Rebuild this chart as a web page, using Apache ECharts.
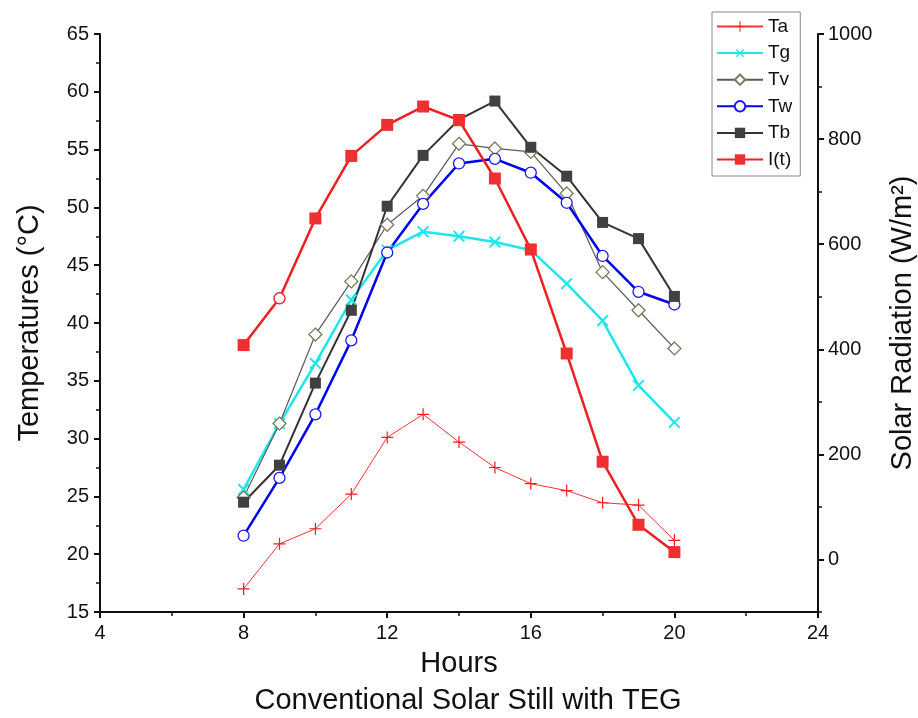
<!DOCTYPE html>
<html><head><meta charset="utf-8">
<script src="https://cdn.jsdelivr.net/npm/echarts@6/dist/echarts.min.js"></script>
<style>html,body{margin:0;padding:0;background:#fff}#c{width:918px;height:718px}</style>
</head><body><div id="c"></div>
<script>
const hours = [8, 9, 10, 11, 12, 13, 14, 15, 16, 17, 18, 19, 20];
const Ta = [17.0, 20.9, 22.2, 25.2, 30.1, 32.1, 29.7, 27.5, 26.1, 25.5, 24.45, 24.25, 21.2];
const Tg = [25.6, 31.3, 36.5, 42.0, 46.3, 47.9, 47.5, 47.0, 46.3, 43.4, 40.2, 34.6, 31.4];
const Tv = [24.9, 31.3, 39.0, 43.6, 48.5, 51.0, 55.5, 55.1, 54.8, 51.2, 44.4, 41.1, 37.8];
const Tw = [21.6, 26.6, 32.1, 38.5, 46.1, 50.3, 53.8, 54.2, 53.0, 50.4, 45.8, 42.7, 41.6];
const Tb = [24.5, 27.7, 34.8, 41.1, 50.1, 54.5, 57.6, 59.2, 55.2, 52.7, 48.7, 47.3, 42.3];
const It = [408, 497, 649, 768, 827, 862, 836, 725, 590, 392, 186, 66, 14];
const radTicks = [0, 200, 400, 600, 800, 1000];
const radMinorTicks = [-100, 100, 300, 500, 700, 900];
const seriesNames = ['Ta', 'Tg', 'Tv', 'Tw', 'Tb', 'I(t)'];

const FONT = 'Liberation Sans, Arial, sans-serif';
const pair = arr => hours.map((h, i) => [h, arr[i]]);
const plusPath = 'path://M-0.6,-6H0.6V-0.6H6V0.6H0.6V6H-0.6V0.6H-6V-0.6H-0.6Z';
const plusPathThick = 'path://M-0.8,-6H0.8V-0.8H6V0.8H0.8V6H-0.8V0.8H-6V-0.8H-0.8Z';

const itData = pair(It).map((p, i) => i === 1
  ? { value: p, symbol: 'circle', symbolSize: 11, itemStyle: { color: '#fff', borderColor: '#ee2a2a', borderWidth: 1.5 } }
  : p);

const axisTextStyle = { color: '#111', fontSize: 20, fontFamily: FONT };
const nameStyle = { fontFamily: FONT, fontSize: 29, color: '#111' };
const chart = echarts.init(document.getElementById('c'), null, { renderer: 'canvas' });
chart.setOption({
  animation: false,
  backgroundColor: '#fff',
  title: {
    text: 'Conventional Solar Still with TEG',
    left: 468, top: 686, textAlign: 'center', padding: 0,
    textStyle: { fontFamily: FONT, fontSize: 29, fontWeight: 'normal', color: '#111' }
  },
  grid: { left: 100, right: 100, top: 34, bottom: 106, containLabel: false, outerBoundsMode: 'none' },
  legend: {
    data: seriesNames,
    orient: 'vertical', left: 712, top: 12,
    itemWidth: 46, itemHeight: 13, itemGap: 7.6,
    padding: [5, 8, 7, 4],
    borderColor: '#888', borderWidth: 1,
    textStyle: { fontFamily: FONT, fontSize: 19, color: '#111' }
  },
  xAxis: {
    type: 'value', min: 4, max: 24, interval: 4,
    name: 'Hours', nameLocation: 'middle', nameGap: 37,
    nameTextStyle: nameStyle,
    axisLine: { show: true, onZero: false, lineStyle: { color: '#111', width: 2 } },
    axisTick: { show: true, length: 6, lineStyle: { color: '#111', width: 2 } },
    minorTick: { show: true, splitNumber: 2, length: 4, lineStyle: { color: '#111', width: 1.5 } },
    axisLabel: Object.assign({ margin: 11 }, axisTextStyle),
    splitLine: { show: false }
  },
  yAxis: [
    {
      type: 'value', min: 15, max: 65, interval: 5, position: 'left',
      name: 'Temperatures (°C)', nameLocation: 'middle', nameGap: 56,
      nameTextStyle: nameStyle,
      axisLine: { show: true, onZero: false, lineStyle: { color: '#111', width: 2 } },
      axisTick: { show: true, length: 6, lineStyle: { color: '#111', width: 2 } },
      minorTick: { show: true, splitNumber: 2, length: 4, lineStyle: { color: '#111', width: 1.5 } },
      axisLabel: Object.assign({ margin: 11 }, axisTextStyle),
      splitLine: { show: false }
    },
    {
      type: 'value', min: -100, max: 1000, interval: 100, position: 'right',
      name: 'Solar Radiation (W/m²)', nameLocation: 'middle', nameGap: 70,
      nameTextStyle: nameStyle,
      axisLine: { show: true, onZero: false, lineStyle: { color: '#111', width: 2 } },
      axisTick: { show: true, length: 6, customValues: radTicks, lineStyle: { color: '#111', width: 2 } },
      axisLabel: Object.assign({ margin: 10, customValues: radTicks, formatter: v => String(v) }, axisTextStyle),
      splitLine: { show: false }
    },
    {
      type: 'value', min: -100, max: 1000, interval: 100, position: 'right',
      axisLine: { show: false },
      axisTick: { show: true, length: 4, customValues: radMinorTicks, lineStyle: { color: '#111', width: 1.5 } },
      axisLabel: { show: false },
      splitLine: { show: false }
    }
  ],
  series: [
    {
      name: 'Ta', type: 'line', yAxisIndex: 0, data: pair(Ta),
      symbol: plusPath, symbolSize: 12,
      lineStyle: { color: '#ff3030', width: 1 },
      itemStyle: { color: '#ff1a1a', borderWidth: 0 }
    },
    {
      name: 'Tg', type: 'line', yAxisIndex: 0, data: pair(Tg),
      symbol: plusPathThick, symbolSize: 15, symbolRotate: 45,
      lineStyle: { color: '#1ee6ee', width: 2.5 },
      itemStyle: { color: '#1ee6ee', borderWidth: 0 }
    },
    {
      name: 'Tv', type: 'line', yAxisIndex: 0, data: pair(Tv),
      symbol: 'diamond', symbolSize: 13,
      lineStyle: { color: '#5a5a5a', width: 1.2 },
      itemStyle: { color: '#fff', borderColor: '#7a7a5c', borderWidth: 1.3 }
    },
    {
      name: 'Tw', type: 'line', yAxisIndex: 0, data: pair(Tw),
      symbol: 'circle', symbolSize: 11,
      lineStyle: { color: '#0000f0', width: 2.5 },
      itemStyle: { color: '#fff', borderColor: '#1a1aff', borderWidth: 1.3 }
    },
    {
      name: 'Tb', type: 'line', yAxisIndex: 0, data: pair(Tb),
      symbol: 'rect', symbolSize: 11,
      lineStyle: { color: '#333', width: 2 },
      itemStyle: { color: '#404040', borderWidth: 0 }
    },
    {
      name: 'I(t)', type: 'line', yAxisIndex: 1, data: itData,
      symbol: 'rect', symbolSize: 12,
      lineStyle: { color: '#ee2020', width: 2.5 },
      itemStyle: { color: '#ee3030', borderWidth: 0 }
    }
  ]
});
</script>
</body></html>
